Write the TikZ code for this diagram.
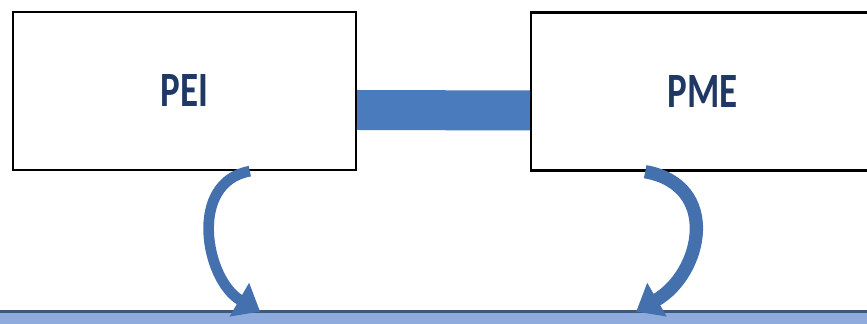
\documentclass[tikz,border=0pt]{standalone}
\usepackage{fontspec}
\setmainfont{Carlito}
\usepackage{xcolor}
\usepackage{tikz}
\usetikzlibrary{arrows.meta, positioning}

\definecolor{labelblue}{HTML}{1F3864}
\definecolor{linkblue}{HTML}{4A7BBD}
\definecolor{curlblue}{HTML}{4470AD}
\definecolor{baseblue}{HTML}{8FAADC}
\definecolor{baseedge}{HTML}{3E5878}

\begin{document}
\begin{tikzpicture}[x=0.75pt, y=0.75pt, >=stealth,
        stage/.style={rectangle, draw=black, line width=1.8pt, fill=white, minimum width=257pt, minimum height=118.5pt, font=\fontsize{37}{40}\selectfont\bfseries, text=labelblue},
        base/.style={rectangle, draw=baseedge, line width=2pt, fill=baseblue, minimum width=670pt, minimum height=14pt},
        link/.style={draw=linkblue, line width=30pt},
        curl/.style={draw=curlblue, line width=#1, -{Triangle[width=28pt, length=18pt]}}
    ]
        \useasboundingbox (0,0) rectangle (867,324);

        % Nodes
        \node [stage] (pei) at (184.5,233) {\scalebox{0.75}[1]{PEI}};
        \node [stage] (pme) at (702.5,232.5) {\scalebox{0.75}[1]{PME}};
        \node [base] (base) at (433.5,3) {};

        % Connectors
        \draw[link] ([yshift=-14.25pt]pei.east) -- ([yshift=-14.25pt]pme.west);
        \draw[curl=8pt] ([xshift=49pt]pei.south) to[out=190, in=150, looseness=1.15] ([xshift=-130pt, yshift=-1pt]base.north);
        \draw[curl=10pt] ([xshift=-43pt]pme.south) to[out=-10, in=30, looseness=1.4] ([xshift=152pt, yshift=-1pt]base.north);
    \end{tikzpicture}
\end{document}
